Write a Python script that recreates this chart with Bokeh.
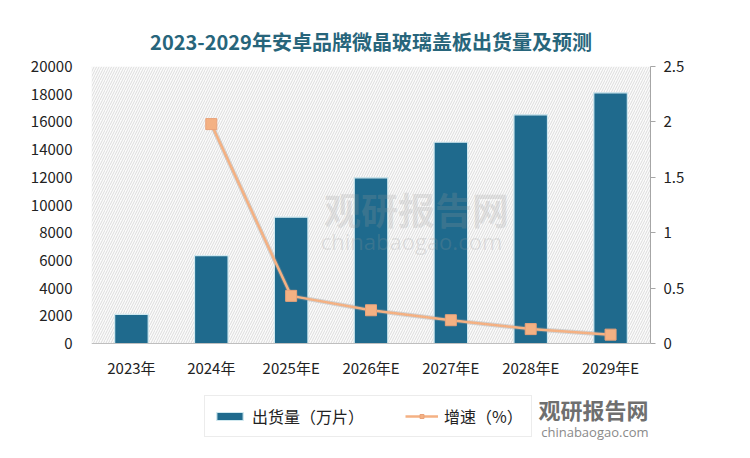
from bokeh.plotting import figure
from bokeh.models import (FactorRange, Range1d, LinearAxis, BoxAnnotation, Legend,
                          LegendItem, Label, FixedTicker, ColumnDataSource, Span)
from bokeh.embed import file_html
from bokeh.resources import INLINE
from bokeh.core.properties import value

years = ["2023年", "2024年", "2025年E", "2026年E", "2027年E", "2028年E", "2029年E"]
shipments = [2100, 6350, 9120, 11960, 14530, 16510, 18100]   # 出货量（万片）
growth = [None, 1.98, 0.43, 0.30, 0.21, 0.13, 0.08]          # 增速（%）
left_ticks = [0, 2000, 4000, 6000, 8000, 10000, 12000, 14000, 16000, 18000, 20000]
right_ticks = [0, 0.5, 1, 1.5, 2, 2.5]
right_labels = {0: "0", 0.5: "0.5", 1: "1", 1.5: "1.5", 2: "2", 2.5: "2.5"}

FONT = "Noto Sans CJK SC"
BAR = "#1f6a8d"
ORANGE = "#f4b183"

W, H = 734, 442
FT, FB = 66, 442          # frame top / bottom (px)
ZERO = 343                # pixel row of the zero line
below = (FB - ZERO) / (ZERO - FT)   # fraction of axis span that lies below zero

p = figure(width=W, height=H, output_backend="svg", toolbar_location=None,
           x_range=FactorRange(factors=years, range_padding=0),
           y_range=Range1d(-20000 * below, 20000),
           min_border_left=91, min_border_right=84, min_border_top=FT, min_border_bottom=0)
p.extra_y_ranges = {"g": Range1d(-2.5 * below, 2.5)}
p.outline_line_color = None
p.border_fill_color = "white"
p.background_fill_color = "white"
p.grid.visible = False
p.xaxis.visible = False

p.title.text = "2023-2029年安卓品牌微晶玻璃盖板出货量及预测"
p.title.align = "center"
p.title.text_font = FONT
p.title.text_font_size = "20px"
p.title.text_font_style = "bold"
p.title.text_color = "#27657b"
p.title.offset = 0
p.title.standoff = 22

# hatched plot background
p.add_layout(BoxAnnotation(bottom=0, top=20000, fill_color="#f6f6f6", line_color=None,
                           hatch_pattern="/", hatch_color="#cfcfcf",
                           hatch_scale=5, hatch_weight=0.7, level="underlay"))
p.add_layout(Span(location=0, dimension="width", line_color="#bfbfbf", line_width=1))

src = ColumnDataSource(dict(x=years, y=shipments))
bars = p.vbar(x="x", top="y", width=0.42, source=src, fill_color=BAR,
              line_color="#cfe8ef", line_width=1.2)

gsrc = ColumnDataSource(dict(x=years[1:], y=growth[1:]))
p.line(x="x", y="y", source=gsrc, y_range_name="g", line_color="#9a9a9a",
       line_width=4.5, line_alpha=0.35)
gl = p.line(x="x", y="y", source=gsrc, y_range_name="g", line_color=ORANGE, line_width=2.5)
gm = p.scatter(x="x", y="y", source=gsrc, y_range_name="g", marker="square", size=11,
               fill_color=ORANGE, line_color="#e9a27a", line_width=1)

# category labels under the zero line
lsrc = ColumnDataSource(dict(x=years, y=[0] * len(years), t=years))
p.text(x="x", y="y", text="t", source=lsrc, y_offset=24, text_align="center",
       text_baseline="middle", text_font=value(FONT), text_font_size="15px",
       text_color="#222222")

ya = p.yaxis[0]
ya.ticker = FixedTicker(ticks=left_ticks)
ya.bounds = (0, 20000)
ya.axis_line_color = None
ya.major_tick_line_color = None
ya.minor_tick_line_color = None
ya.major_label_text_font = FONT
ya.major_label_text_font_size = "15px"
ya.major_label_text_color = "#222222"
ya.major_label_standoff = 13

ra = LinearAxis(y_range_name="g", ticker=FixedTicker(ticks=right_ticks),
                major_label_overrides=right_labels, bounds=(0, 2.5))
ra.axis_line_color = "#a6a6a6"
ra.major_tick_line_color = "#a6a6a6"
ra.major_tick_in = 0
ra.major_tick_out = 5
ra.minor_tick_line_color = None
ra.major_label_text_font = FONT
ra.major_label_text_font_size = "15px"
ra.major_label_text_color = "#222222"
ra.major_label_standoff = 8
p.add_layout(ra, "right")

# watermarks
p.add_layout(Label(x=325, y=234, x_units="screen", y_units="screen", text="观研报告网",
                   text_font=FONT, text_font_size="37px", text_font_style="bold",
                   text_color="#9a9a9a", text_alpha=0.22, text_align="center",
                   text_baseline="middle"))
p.add_layout(Label(x=320, y=202, x_units="screen", y_units="screen", text="chinabaogao.com",
                   text_font="Open Sans", text_font_size="22px",
                   text_color="#9a9a9a", text_alpha=0.22, text_align="center",
                   text_baseline="middle"))
p.add_layout(Label(x=557, y=34, x_units="screen", y_units="screen", text="观研报告网",
                   text_font=FONT, text_font_size="22px", text_font_style="bold",
                   text_color="#6f6f6f", text_align="right", text_baseline="middle"))
p.add_layout(Label(x=557, y=11, x_units="screen", y_units="screen", text="chinabaogao.com",
                   text_font="Open Sans", text_font_size="13px",
                   text_color="#8a8a8a", text_align="right", text_baseline="middle"))

legend = Legend(items=[LegendItem(label="出货量（万片）", renderers=[bars]),
                       LegendItem(label="增速（%）", renderers=[gl, gm])],
                orientation="horizontal", location=(113, 5),
                label_text_font=FONT, label_text_font_size="16px",
                label_text_color="#222222", glyph_width=33, glyph_height=10,
                label_standoff=6, spacing=41, padding=8, margin=0,
                border_line_color="#d9d9d9", background_fill_color="white")
p.add_layout(legend, "center")

open("out.html", "w").write(file_html(p, INLINE))
